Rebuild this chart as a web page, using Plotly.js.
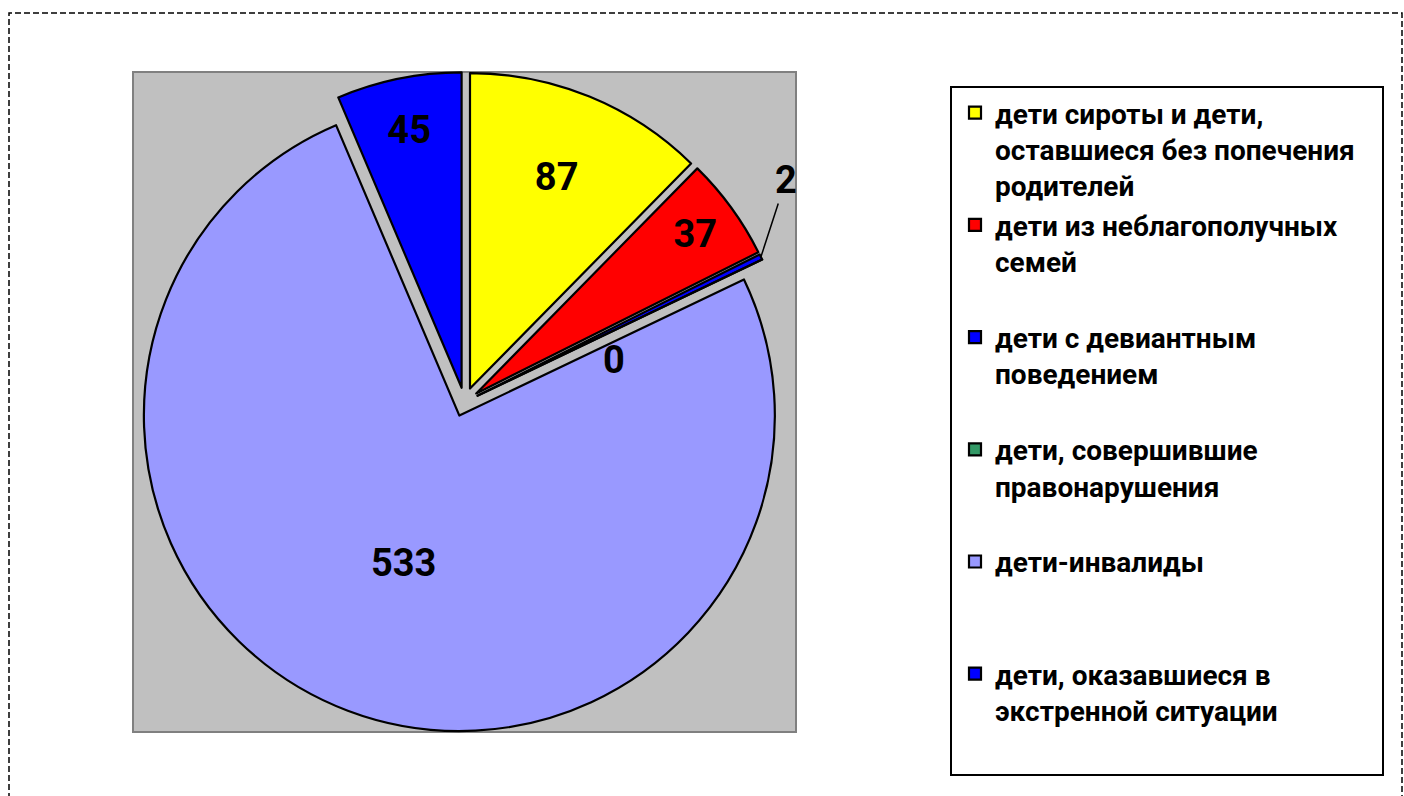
<!DOCTYPE html>
<html>
<head>
<meta charset="utf-8">
<script src="https://cdn.plot.ly/plotly-3.0.1.min.js"></script>
<style>html,body{margin:0;padding:0;background:#fff;}#chart{width:1404px;height:796px;}</style>
</head>
<body>
<div id="chart"></div>
<script>
const categories = [
  'дети сироты и дети,<br>оставшиеся без попечения<br>родителей',
  'дети из неблагополучных<br>семей',
  'дети с девиантным<br>поведением',
  'дети, совершившие<br>правонарушения',
  'дети-инвалиды',
  'дети, оказавшиеся в<br>экстренной ситуации'
];
const values = [87, 37, 2, 0, 533, 45];
const colors = ['#FFFF00', '#FF0000', '#0000FF', '#339966', '#9999FF', '#0000FF'];
// 'inside' = label drawn by the pie itself; 'callout' = label placed beside its slice
const labelModes = ['inside', 'inside', 'callout', 'near', 'inside', 'inside'];
const PULL = 0.046;

// pad every legend entry to three lines so entries are evenly spaced
const legendLabels = categories.map(c => {
  const n = c.split('<br>').length;
  let s = c;
  for (let i = n; i < 3; i++) s += '<br>\u00a0';
  return s;
});

const W = 1404, H = 796;
const m = {l: 133, r: 608, t: 72, b: 64};
const pw = W - m.l - m.r, ph = H - m.t - m.b;
const px = x => (x - m.l) / pw;
const py = y => (H - m.b - y) / ph;

const labelFont = {family: 'Roboto, sans-serif', size: 38, weight: 'bold', color: '#000000'};

const trace = {
  type: 'pie',
  labels: legendLabels,
  values: values,
  sort: false,
  direction: 'clockwise',
  rotation: 0,
  pull: values.map(() => PULL),
  marker: {colors: colors, line: {color: '#000000', width: 2.2}},
  text: values.map((v, i) => labelModes[i] === 'inside' ? String(v) : ''),
  textinfo: 'text',
  textposition: labelModes.map(md => md === 'inside' ? 'inside' : 'none'),
  insidetextorientation: 'horizontal',
  textfont: labelFont,
  hoverinfo: 'label+value',
  showlegend: true
};

// labels for slices too thin to hold them: placed along the slice's own angle
const total = values.reduce((a, b) => a + b, 0);
const R = Math.min(pw, ph) / 2;           // outer radius incl. pull, in px
const annotations = [];
let cum = 0;
values.forEach((v, i) => {
  const midFrac = (cum + v / 2) / total;
  cum += v;
  const th = midFrac * 2 * Math.PI;
  const sx = Math.sin(th), sy = Math.cos(th);
  if (labelModes[i] === 'callout') {
    annotations.push({
      xref: 'paper', yref: 'paper',
      x: 0.5 + R * sx / pw, y: 0.5 + R * sy / ph,
      text: String(v), font: labelFont,
      showarrow: true, arrowhead: 0, arrowwidth: 1.5, arrowcolor: '#000000',
      standoff: 0, ax: 25, ay: -77
    });
  } else if (labelModes[i] === 'near') {
    annotations.push({
      xref: 'paper', yref: 'paper',
      x: 0.5 + 0.46 * R * sx / pw, y: 0.5 + 0.46 * R * sy / ph,
      text: String(v), font: labelFont, showarrow: false,
      xanchor: 'left', yanchor: 'top'
    });
  }
});

const layout = {
  width: W, height: H,
  margin: m,
  paper_bgcolor: '#FFFFFF',
  showlegend: true,
  legend: {
    x: px(955), y: py(88), xanchor: 'left', yanchor: 'top',
    valign: 'top',
    bgcolor: 'rgba(0,0,0,0)', borderwidth: 0,
    font: {family: 'Roboto, sans-serif', size: 28, weight: 'bold', color: '#000000'},
    traceorder: 'normal'
  },
  annotations: annotations,
  shapes: [
    {type: 'rect', xref: 'paper', yref: 'paper', x0: 0, x1: 1, y0: 0, y1: 1,
     fillcolor: '#C0C0C0', line: {color: '#808080', width: 2}, layer: 'below'},
    {type: 'rect', xref: 'paper', yref: 'paper', x0: px(9), x1: px(1402), y0: py(830), y1: py(13),
     fillcolor: 'rgba(0,0,0,0)', line: {color: '#000000', width: 1.5, dash: '6px,3px'}, layer: 'below'},
    {type: 'rect', xref: 'paper', yref: 'paper', x0: px(951), x1: px(1383), y0: py(775), y1: py(87),
     fillcolor: 'rgba(0,0,0,0)', line: {color: '#000000', width: 2}, layer: 'below'}
  ]
};

Plotly.newPlot('chart', [trace], layout, {displayModeBar: false, staticPlot: true});
</script>
</body>
</html>
